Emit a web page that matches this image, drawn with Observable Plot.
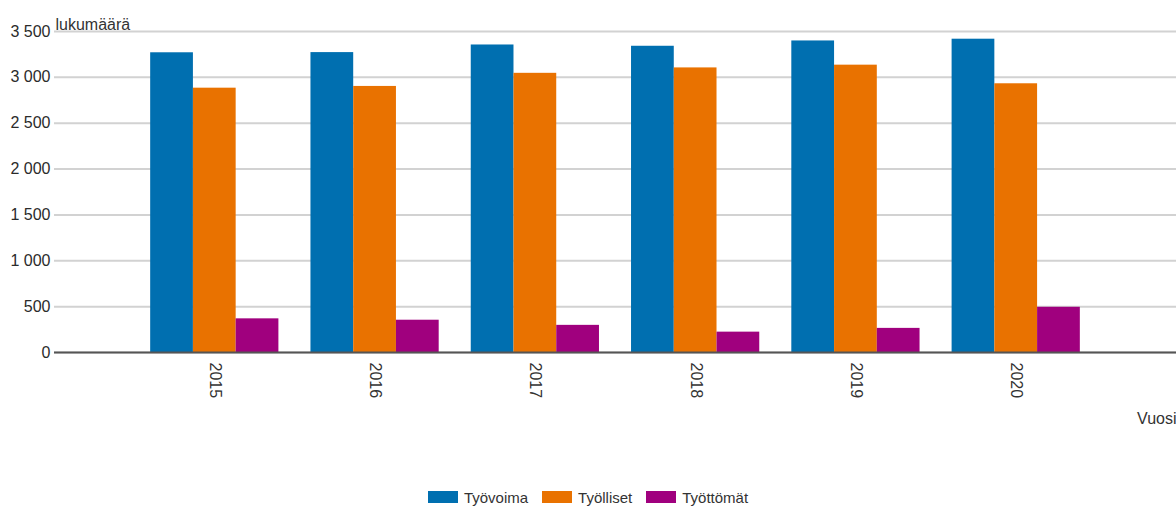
<!DOCTYPE html>
<html><head><meta charset="utf-8">
<script src="https://cdn.jsdelivr.net/npm/d3@7"></script>
<script src="https://cdn.jsdelivr.net/npm/@observablehq/plot@0.6"></script>
<style>
body{margin:0;background:#fff;font-family:"Liberation Sans",Arial,sans-serif;}
#chart svg{display:block;}
#legend{display:flex;justify-content:center;align-items:center;height:30px;padding-top:12px;font-size:15px;color:#333;}
#legend .item{display:flex;align-items:center;margin:0 7px;}
#legend .sw{width:30px;height:12px;margin-right:6px;}
</style></head><body>
<div id="chart"></div>
<div id="legend"></div>
<script>
const years = [2015, 2016, 2017, 2018, 2019, 2020];
const series = ["Työvoima", "Työlliset", "Työttömät"];
const tyovoima = [3268, 3270, 3353, 3339, 3397, 3416];
const tyolliset = [2882, 2901, 3044, 3103, 3133, 2930];
const tyottomat = [367, 352, 296, 222, 263, 493];
const yTicks = [0, 500, 1000, 1500, 2000, 2500, 3000, 3500];
const colors = ["#006fb0", "#e97200", "#a0007e"];

const values = [tyovoima, tyolliset, tyottomat];
const data = years.flatMap((year, i) => series.map((s, j) => ({year, series: s, j, value: values[j][i]})));
const groupWidth = 0.8;
const bw = groupWidth / series.length;
const fmt = d3.formatLocale({thousands: " ", grouping: [3], decimal: ","}).format(",");

const chart = Plot.plot({
  width: 1176, height: 470,
  marginTop: 31, marginBottom: 118, marginLeft: 54, marginRight: 0,
  style: {fontFamily: "'Liberation Sans', Arial, sans-serif", fontSize: "16px", color: "#333", background: "#fff"},
  x: {type: "linear", domain: [years[0] - 1, years[years.length - 1] + 1]},
  y: {domain: [0, 3500]},
  color: {domain: series, range: colors},
  marks: [
    Plot.ruleY(yTicks, {stroke: "#d2d2d2", strokeWidth: 2}),
    Plot.rect(data, {
      x1: d => d.year - groupWidth / 2 + d.j * bw,
      x2: d => d.year - groupWidth / 2 + (d.j + 1) * bw,
      y1: 0, y2: "value", fill: "series"
    }),
    Plot.ruleY([0], {stroke: "#555", strokeWidth: 2}),
    Plot.axisY({ticks: yTicks, tickSize: 0, tickPadding: 4, tickFormat: fmt, label: null, fill: "#2b2b2b"}),
    Plot.axisX({ticks: years, tickSize: 0, tickPadding: 10, tickRotate: 90, tickFormat: d => String(d), label: null, fill: "#333"}),
    Plot.text(["lukumäärä"], {frameAnchor: "top-left", dx: 1, dy: -13, textAnchor: "start", fill: "#333", fontSize: 16}),
    Plot.text(["Vuosi"], {frameAnchor: "bottom-right", dy: 71, textAnchor: "end", fill: "#333", fontSize: 16})
  ]
});
document.getElementById("chart").appendChild(chart);

const legend = document.getElementById("legend");
series.forEach((s, i) => {
  const it = document.createElement("div");
  it.className = "item";
  const sw = document.createElement("div");
  sw.className = "sw";
  sw.style.background = colors[i];
  const t = document.createElement("span");
  t.textContent = s;
  it.appendChild(sw); it.appendChild(t);
  legend.appendChild(it);
});
</script>
</body></html>
